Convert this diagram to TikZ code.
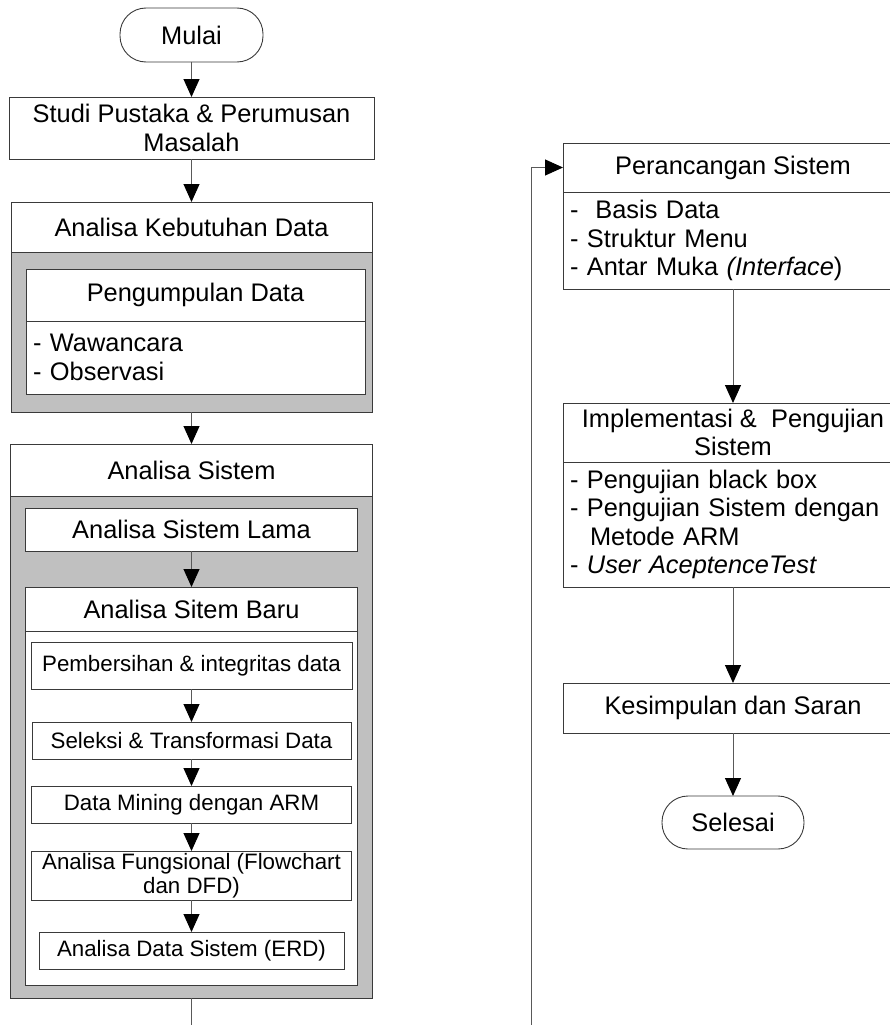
\documentclass[tikz,border=0pt]{standalone}
\usepackage{fontspec}
\setmainfont{Liberation Sans}
\usepackage{xcolor}
\usepackage{tikz}
\usetikzlibrary{
    arrows.meta,
    positioning
}
\definecolor{abu}{HTML}{C0C0C0}
\definecolor{garis}{HTML}{3A3A3A}
\newcommand{\fontbig}{\fontsize{25.4pt}{28.5pt}\selectfont}
\newcommand{\fontsmall}{\fontsize{22.3pt}{24.5pt}\selectfont}
\tikzset{
    terminal/.style={
        draw=garis,
        line width=0.9pt,
        rounded corners=26pt,
        minimum width=143pt,
        minimum height=54pt,
        align=center,
        outer sep=0pt,
        font=\fontbig,
        fill=white
    }
}
\tikzset{
    judul/.style={
        draw=garis,
        line width=0.9pt,
        inner sep=1pt,
        outer sep=0pt,
        align=center,
        font=\fontbig,
        fill=white
    }
}
\tikzset{
    daftar/.style={
        draw=garis,
        line width=0.9pt,
        inner xsep=7pt,
        inner ysep=1pt,
        outer sep=0pt,
        align=left,
        font=\fontbig,
        fill=white
    }
}
\tikzset{
    langkah/.style={
        draw=garis,
        line width=0.9pt,
        inner sep=0pt,
        outer sep=0pt,
        align=center,
        font=\fontsmall,
        fill=white
    }
}
\tikzset{
    wadah/.style={
        draw=garis,
        line width=0.9pt,
        inner sep=0pt,
        outer sep=0pt,
        fill=abu
    }
}
\tikzset{
    alur/.style={
        draw=black!65,
        line width=1pt,
        -{Triangle[length=18pt,width=16pt,color=black]}
    }
}
\tikzset{
    sambung/.style={
        draw=black!65,
        line width=1pt
    }
}

\begin{document}
\begin{tikzpicture}[x=1pt, y=1pt]

\useasboundingbox (0,0) rectangle (890,-1025);

\node[terminal] (mulai) at (191.5,-35) {Mulai};
\node[judul, minimum width=365pt, minimum height=62pt, below=35pt of mulai] (studi)
    {Studi Pustaka \& Perumusan\\Masalah};

\node[judul, minimum width=361pt, minimum height=50pt, below=43pt of studi] (kebutuhan)
    {Analisa Kebutuhan Data};
\node[wadah, minimum width=361pt, minimum height=160pt, below=0pt of kebutuhan] (kebutuhanisi) {};
\node[judul, minimum width=339pt, minimum height=52pt, below=17pt of kebutuhan, xshift=4pt] (pengumpulan)
    {Pengumpulan Data};
\node[daftar, text width=325pt, minimum height=73pt, below=0pt of pengumpulan] (pengumpulanisi)
    {- Wawancara\\- Observasi};

\node[judul, minimum width=362pt, minimum height=52pt, below=32pt of kebutuhanisi] (sistem)
    {Analisa Sistem};
\node[wadah, minimum width=362pt, minimum height=502pt, below=0pt of sistem] (sistemisi) {};
\node[judul, minimum width=332pt, minimum height=43pt, below=12pt of sistem] (lama)
    {Analisa Sistem Lama};
\node[judul, minimum width=332pt, minimum height=44pt, below=36pt of lama] (baru)
    {Analisa Sitem Baru};
\node[wadah, fill=white, minimum width=332pt, minimum height=354pt, below=0pt of baru] (baruisi) {};
\node[langkah, minimum width=321pt, minimum height=47pt, below=11pt of baru] (pembersihan)
    {Pembersihan \& integritas data};
\node[langkah, minimum width=319pt, minimum height=37pt, below=33pt of pembersihan] (seleksi)
    {Seleksi \& Transformasi Data};
\node[langkah, minimum width=320pt, minimum height=37pt, below=27pt of seleksi] (mining)
    {Data Mining dengan ARM};
\node[langkah, minimum width=320pt, minimum height=49pt, below=28pt of mining] (fungsional)
    {Analisa Fungsional (Flowchart\\dan DFD)};
\node[langkah, minimum width=305pt, minimum height=37pt, below=32pt of fungsional] (erd)
    {Analisa Data Sistem (ERD)};

\node[judul, minimum width=340pt, minimum height=49pt] (perancangan) at (733,-167.5)
    {Perancangan Sistem};
\node[daftar, text width=326pt, minimum height=97pt, below=0pt of perancangan] (perancanganisi)
    {-~ Basis Data\\- Struktur Menu\\- Antar Muka \textit{(Interface})};
\node[judul, minimum width=340pt, minimum height=59pt, below=114pt of perancanganisi] (implementasi)
    {Implementasi \&~ Pengujian\\Sistem};
\node[daftar, text width=326pt, minimum height=125pt, below=0pt of implementasi] (implementasiisi)
    {- Pengujian black box\\- Pengujian Sistem dengan\\\hspace*{20pt}Metode ARM\\- \textit{User AceptenceTest}};
\node[judul, minimum width=340pt, minimum height=50pt, below=96pt of implementasiisi] (kesimpulan)
    {Kesimpulan dan Saran};
\node[terminal, minimum width=142pt, minimum height=53pt, below=63pt of kesimpulan] (selesai)
    {Selesai};

\coordinate (keluar) at (191.5,-1025);
\coordinate (masuk) at (531,-1025);

\draw[alur] (mulai) -- (studi);
\draw[alur] (studi) -- (kebutuhan);
\draw[alur] (kebutuhanisi) -- (sistem);
\draw[alur] (lama) -- (baru);
\draw[alur] (pembersihan) -- (seleksi);
\draw[alur] (seleksi) -- (mining);
\draw[alur] (mining) -- (fungsional);
\draw[alur] (fungsional) -- (erd);
\draw[sambung] (sistemisi) -- (keluar);

\draw[alur] (masuk) |- (perancangan);
\draw[alur] (perancanganisi) -- (implementasi);
\draw[alur] (implementasiisi) -- (kesimpulan);
\draw[alur] (kesimpulan) -- (selesai);

\end{tikzpicture}
\end{document}
